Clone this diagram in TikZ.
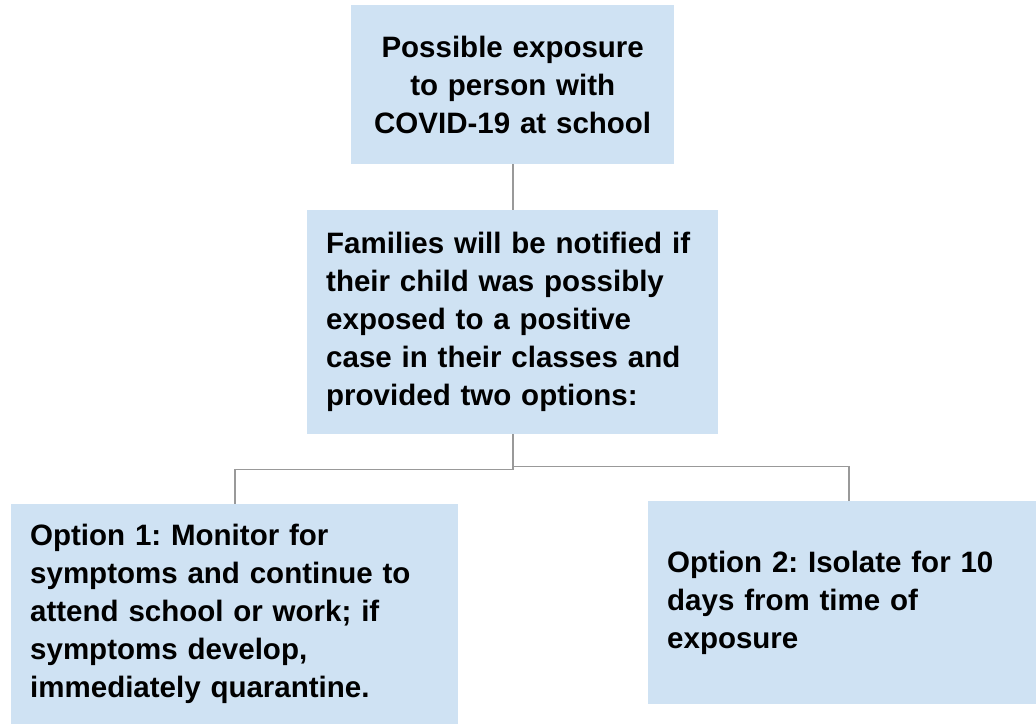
\documentclass[tikz,border=0pt]{standalone}
\usepackage{fontspec}
\setmainfont{Liberation Sans}
\definecolor{boxblue}{HTML}{CFE2F3}
\definecolor{linegray}{HTML}{999999}

\begin{document}
\frenchspacing
\begin{tikzpicture}[x = 1pt, y = -1pt,
	box/.style = {fill = boxblue, anchor = north west, inner xsep = 19pt, inner ysep = 0pt,
		font = \bfseries\fontsize{29.5pt}{38pt}\selectfont},
	link/.style = {draw = linegray, line width = 1.6pt}]
	\useasboundingbox (0, 0) rectangle (1036, 725);

	% Kaesten:
	\node [box, align = center, text width = 285pt, minimum height = 159pt] (expo) at (351, 5)
		{Possible exposure\\to person with\\COVID-19 at school};
	\node [box, align = left, text width = 373pt, minimum height = 224pt] (notify) at (307, 210)
		{Families will be notified if\\their child was possibly\\exposed to a positive\\case in their classes and\\provided two options:};
	\node [box, align = left, text width = 409pt, minimum height = 220pt] (optone) at (11, 504)
		{Option 1: Monitor for\\symptoms and continue to\\attend school or work; if\\symptoms develop,\\immediately quarantine.};
	\node [box, align = left, text width = 350pt, minimum height = 203pt] (opttwo) at (648, 501)
		{Option 2: Isolate for 10\\days from time of\\exposure};

	% Verbindungen:
	\draw [link] (expo.south) -- (notify.north);
	\draw [link] (notify.south) -- ++(0, 35) -| (optone.north);
	\draw [link] (notify.south) -- ++(0, 32) -| ([xshift = 7pt] opttwo.north);
\end{tikzpicture}
\end{document}
